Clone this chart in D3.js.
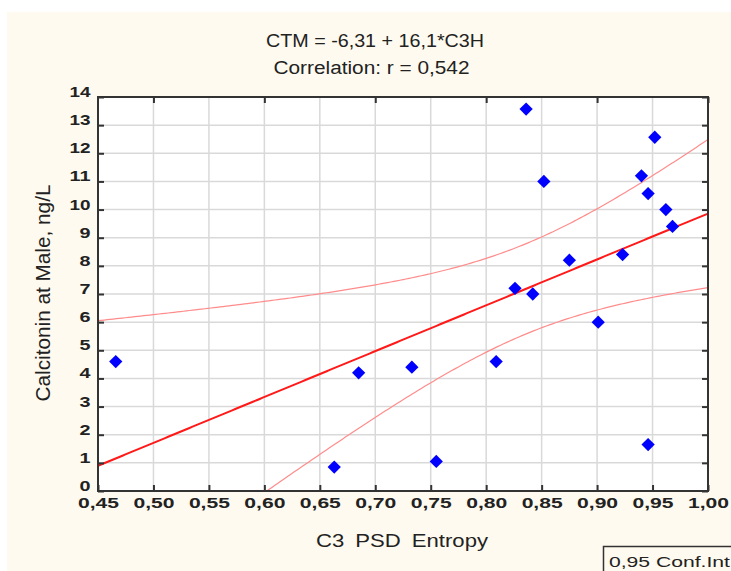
<!DOCTYPE html>
<html>
<head>
<meta charset="utf-8">
<script src="https://cdn.jsdelivr.net/npm/d3@7"></script>
<style>
  html, body { margin: 0; padding: 0; background: #ffffff; }
  svg { display: block; }
  text { font-family: "Liberation Sans", Arial, sans-serif; fill: #222; }
</style>
</head>
<body>
<script>
// ---- data ----
const c3Entropy = [0.466, 0.685, 0.733, 0.663, 0.836, 0.952, 0.940, 0.852, 0.946, 0.962,
                   0.968, 0.923, 0.875, 0.826, 0.842, 0.901, 0.809, 0.946, 0.755];
const calcitonin = [4.60, 4.20, 4.40, 0.85, 13.57, 12.57, 11.20, 11.00, 10.57, 10.00,
                    9.40, 8.40, 8.20, 7.20, 7.00, 6.00, 4.60, 1.65, 1.05];
const xTicks = [0.45, 0.50, 0.55, 0.60, 0.65, 0.70, 0.75, 0.80, 0.85, 0.90, 0.95, 1.00];
const yTicks = [0, 1, 2, 3, 4, 5, 6, 7, 8, 9, 10, 11, 12, 13, 14];
const titleLines = ["CTM = -6,31 + 16,1*C3H", "Correlation: r = 0,542"];
const xTitle = "C3 PSD Entropy";
const yTitle = "Calcitonin at Male, ng/L";
const legendText = "0,95 Conf.Int";
const tCrit = 2.110; // Student t, 0.975 quantile, 17 df (0,95 confidence band)

// ---- layout ----
const W = 731, H = 571;
const L = 98, R = 708, T = 97, B = 491;

const svg = d3.select("body").append("svg").attr("width", W).attr("height", H);

svg.append("rect").attr("x", 7).attr("y", 12).attr("width", W - 7).attr("height", H - 12)
  .attr("fill", "#fffaef");

const x = d3.scaleLinear().domain([0.45, 1.00]).range([L, R]);
const y = d3.scaleLinear().domain([0, 14]).range([B, T]);

svg.append("rect").attr("x", L).attr("y", T).attr("width", R - L).attr("height", B - T)
  .attr("fill", "#ffffff");

// grid
const grid = svg.append("g").attr("stroke", "#d9d9d9").attr("stroke-width", 1.5);
grid.selectAll("line.v").data(xTicks.slice(1, -1)).join("line")
  .attr("x1", d => x(d)).attr("x2", d => x(d)).attr("y1", T).attr("y2", B);
grid.selectAll("line.h").data(yTicks.slice(1, -1)).join("line")
  .attr("y1", d => y(d)).attr("y2", d => y(d)).attr("x1", L).attr("x2", R);

// regression from data
const n = c3Entropy.length;
const mx = d3.mean(c3Entropy), my = d3.mean(calcitonin);
const sxx = d3.sum(c3Entropy, v => (v - mx) ** 2);
const sxy = d3.sum(c3Entropy.map((v, i) => (v - mx) * (calcitonin[i] - my)));
const slope = sxy / sxx, intercept = my - slope * mx;
const sse = d3.sum(c3Entropy.map((v, i) => (calcitonin[i] - (intercept + slope * v)) ** 2));
const s = Math.sqrt(sse / (n - 2));

const xs = d3.range(0, 201).map(i => 0.45 + i * (0.55 / 200));
const band = xs.map(xv => {
  const yh = intercept + slope * xv;
  const hw = tCrit * s * Math.sqrt(1 / n + (xv - mx) ** 2 / sxx);
  return { x: xv, fit: yh, lo: yh - hw, hi: yh + hw };
});

svg.append("clipPath").attr("id", "plotclip").append("rect")
  .attr("x", L).attr("y", T).attr("width", R - L).attr("height", B - T);
const plot = svg.append("g").attr("clip-path", "url(#plotclip)");

const lineOf = key => d3.line().x(d => x(d.x)).y(d => y(d[key]));
plot.append("path").datum(band).attr("d", lineOf("hi"))
  .attr("fill", "none").attr("stroke", "#ff8c8c").attr("stroke-width", 1.2);
plot.append("path").datum(band).attr("d", lineOf("lo"))
  .attr("fill", "none").attr("stroke", "#ff8c8c").attr("stroke-width", 1.2);
plot.append("path").datum(band).attr("d", lineOf("fit"))
  .attr("fill", "none").attr("stroke", "#ff1a1a").attr("stroke-width", 2);

// points
const diamond = d3.symbol(d3.symbolSquare, 88)();
plot.selectAll("path.pt").data(c3Entropy.map((v, i) => [v, calcitonin[i]])).join("path")
  .attr("class", "pt")
  .attr("d", diamond)
  .attr("transform", d => `translate(${x(d[0])},${y(d[1])}) rotate(45)`)
  .attr("fill", "#0000ff");

// frame
svg.append("rect").attr("x", L).attr("y", T).attr("width", R - L).attr("height", B - T)
  .attr("fill", "none").attr("stroke", "#333").attr("stroke-width", 2);

// ticks (inward)
const fmt = d => d3.format(".2f")(d).replace(".", ",");
const axB = svg.append("g").attr("transform", `translate(0,${B})`)
  .call(d3.axisBottom(x).tickValues(xTicks).tickSizeInner(-6).tickSizeOuter(0).tickPadding(14).tickFormat(fmt));
axB.select(".domain").remove();
axB.selectAll("line").attr("stroke", "#333").attr("stroke-width", 2);
axB.selectAll("text").attr("font-size", 14).attr("font-weight", "bold")
  .attr("textLength", 41).attr("lengthAdjust", "spacingAndGlyphs")
  .attr("fill", "#1e1e2e").attr("font-family", "'Liberation Sans', Arial, sans-serif")
  .attr("dy", null).attr("y", 16.5);

const axT = svg.append("g").attr("transform", `translate(0,${T})`)
  .call(d3.axisTop(x).tickValues(xTicks.filter((d, i) => i % 2 === 1)).tickSizeInner(-6).tickSizeOuter(0).tickFormat(""));
axT.select(".domain").remove();
axT.selectAll("line").attr("stroke", "#333").attr("stroke-width", 2);

const axL = svg.append("g").attr("transform", `translate(${L},0)`)
  .call(d3.axisLeft(y).tickValues(yTicks).tickSizeInner(-6).tickSizeOuter(0).tickPadding(7).tickFormat(d3.format("d")));
axL.select(".domain").remove();
axL.selectAll("line").attr("stroke", "#333").attr("stroke-width", 2);
axL.selectAll("text").attr("font-size", 14).attr("font-weight", "bold")
  .attr("fill", "#1e1e2e").attr("font-family", "'Liberation Sans', Arial, sans-serif")
  .attr("dy", null).attr("y", -0.5).attr("x", -7.5)
  .attr("textLength", d => String(d).length > 1 ? 21 : 11).attr("lengthAdjust", "spacingAndGlyphs");

const axR = svg.append("g").attr("transform", `translate(${R},0)`)
  .call(d3.axisRight(y).tickValues(yTicks).tickSizeInner(-6).tickSizeOuter(0).tickFormat(""));
axR.select(".domain").remove();
axR.selectAll("line").attr("stroke", "#333").attr("stroke-width", 2);

// titles
svg.append("text").attr("x", 375).attr("y", 46.5).attr("text-anchor", "middle")
  .attr("font-size", 18).attr("textLength", 218).attr("lengthAdjust", "spacingAndGlyphs")
  .text(titleLines[0]);
svg.append("text").attr("x", 371.5).attr("y", 74).attr("text-anchor", "middle")
  .attr("font-size", 18).attr("textLength", 196).attr("lengthAdjust", "spacingAndGlyphs")
  .text(titleLines[1]);

svg.append("text").attr("x", 402).attr("y", 547).attr("text-anchor", "middle")
  .attr("font-size", 18).attr("textLength", 172).attr("lengthAdjust", "spacingAndGlyphs")
  .attr("word-spacing", 4)
  .text(xTitle);

svg.append("text").attr("transform", "translate(50,293) rotate(-90)").attr("text-anchor", "middle")
  .attr("font-size", 21).attr("textLength", 217).attr("lengthAdjust", "spacingAndGlyphs")
  .text(yTitle);

// legend box
svg.append("rect").attr("x", 603.5).attr("y", 546.5).attr("width", 140).attr("height", 40)
  .attr("fill", "#fffaef").attr("stroke", "#333").attr("stroke-width", 1.5);
svg.append("text").attr("x", 609).attr("y", 567).attr("font-size", 15)
  .attr("textLength", 121).attr("lengthAdjust", "spacingAndGlyphs")
  .text(legendText);
</script>
</body>
</html>
